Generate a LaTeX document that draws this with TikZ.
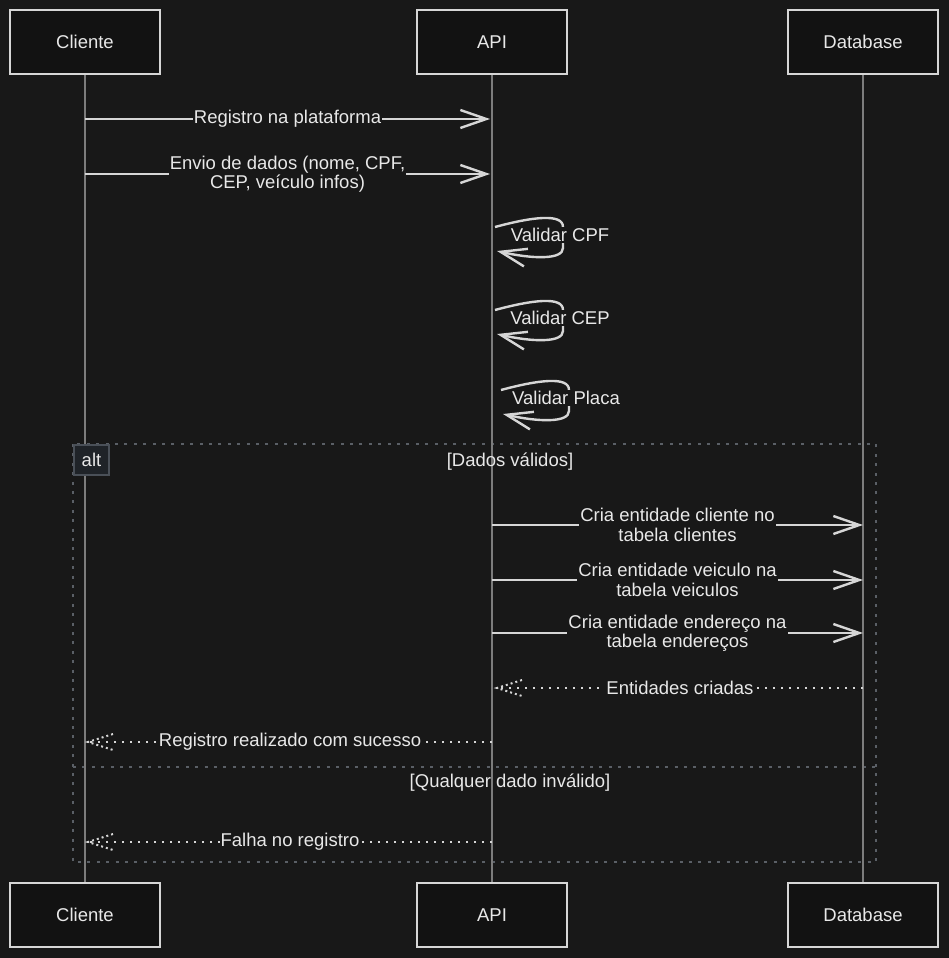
\documentclass[tikz,border=0pt]{standalone}
\usepackage{fontspec}
\setmainfont{Liberation Sans}
\usetikzlibrary{arrows.meta,positioning}

\definecolor{bgdark}{HTML}{181818}
\definecolor{boxfill}{HTML}{121212}
\definecolor{inkline}{HTML}{D6D6D6}
\definecolor{inktext}{HTML}{E8E8E8}
\definecolor{lifegray}{HTML}{7C7C7C}
\definecolor{framegray}{HTML}{5A5F66}
\definecolor{altfill}{HTML}{1F2328}
\definecolor{altedge}{HTML}{4A5058}

\begin{document}
\begin{tikzpicture}[
    x=1pt, y=-1pt,
    font=\fontsize{18.5}{19.5}\selectfont,
    actor/.style={draw=inkline, line width=2pt, fill=boxfill, minimum width=150pt, minimum height=64pt, text=inktext},
    life/.style={draw=lifegray, line width=1.3pt},
    msg/.style={draw=inkline, line width=2.4pt, -{Straight Barb[length=26pt,width=18pt,line width=2.4pt]}},
    ret/.style={draw=inkline, line width=2pt, dash pattern=on 2.5pt off 5.5pt},
    lbl/.style={fill=bgdark, text=inktext, inner sep=1pt, align=center},
    frame/.style={draw=framegray, line width=2.4pt, dash pattern=on 3pt off 6.4pt},
    guard/.style={text=inktext},
    altbox/.style={draw=altedge, fill=altfill, line width=2pt, text=inktext, minimum width=35pt, minimum height=30pt, inner sep=0pt},
    pics/rettip/.style={code={\draw[ret, dash pattern=on 2pt off 3pt] (25,-8) -- (0,0) -- (25,8);}}
]
    % page
    \useasboundingbox[fill=bgdark] (0,0) rectangle (949,958);

    % participants
    \node[actor] (cliTop) at (85,42) {Cliente};
    \node[actor] (apiTop) at (492,42) {API};
    \node[actor] (dbTop) at (863,42) {Database};
    \node[actor, below=807pt of cliTop] (cliBot) {Cliente};
    \node[actor, below=807pt of apiTop] (apiBot) {API};
    \node[actor, below=807pt of dbTop] (dbBot) {Database};

    % alt frame
    \coordinate (frameNW) at (73,444);
    \coordinate (frameSE) at (876,862);
    \coordinate (sep) at (0,767);
    \draw[frame] (frameNW) rectangle (frameSE);
    \draw[frame] (frameNW |- sep) -- (frameSE |- sep);

    % lifelines
    \draw[life] (cliTop.south) -- (cliBot.north);
    \draw[life] (apiTop.south) -- (apiBot.north);
    \draw[life] (dbTop.south) -- (dbBot.north);

    \node[altbox, anchor=north west] (altTag) at (frameNW) {alt};
    \node[guard] (guardOk) at (510,462) {[Dados válidos]};
    \node[guard] (guardBad) at (510,783) {[Qualquer dado inválido]};

    % message rows
    \coordinate (m1) at (0,119);
    \coordinate (m2) at (0,174);
    \coordinate (c1) at (0,525);
    \coordinate (c2) at (0,580);
    \coordinate (c3) at (0,633);
    \coordinate (r1) at (0,688);
    \coordinate (r2) at (0,742);
    \coordinate (r3) at (0,842);

    \draw[msg] (cliTop |- m1) -- node[lbl] {Registro na plataforma} ([xshift=-2pt]apiTop |- m1);
    \draw[msg] (cliTop |- m2) -- node[lbl] {Envio de dados (nome, CPF,\\CEP, veículo infos)} ([xshift=-2pt]apiTop |- m2);

    % self checks
    \foreach \vy/\vdx/\vtxt in {227/0/Validar CPF, 310/0/Validar CEP, 390/6/Validar Placa} {
        \begin{scope}[shift={(492+\vdx,\vy)}]
            \draw[msg] (3,0) .. controls (40,-10) and (71,-14) .. (71,0) -- (71,21)
                .. controls (71,33) and (40,32) .. (5,24);
            \node[lbl] (chk) at (68,8) {\vtxt};
        \end{scope}
    }

    \draw[msg] (apiTop |- c1) -- node[lbl] {Cria entidade cliente no\\tabela clientes} (dbTop |- c1);
    \draw[msg] (apiTop |- c2) -- node[lbl] {Cria entidade veiculo na\\tabela veiculos} (dbTop |- c2);
    \draw[msg] (apiTop |- c3) -- node[lbl] {Cria entidade endereço na\\tabela endereços} (dbTop |- c3);

    \draw[ret] (dbTop |- r1) -- node[lbl] {Entidades criadas} ([xshift=5pt]apiTop |- r1);
    \pic at ([xshift=5pt]apiTop |- r1) {rettip};
    \draw[ret] (apiTop |- r2) -- node[lbl] {Registro realizado com sucesso} ([xshift=3pt]cliTop |- r2);
    \pic at ([xshift=3pt]cliTop |- r2) {rettip};
    \draw[ret] (apiTop |- r3) -- node[lbl] {Falha no registro} ([xshift=3pt]cliTop |- r3);
    \pic at ([xshift=3pt]cliTop |- r3) {rettip};
\end{tikzpicture}
\end{document}
